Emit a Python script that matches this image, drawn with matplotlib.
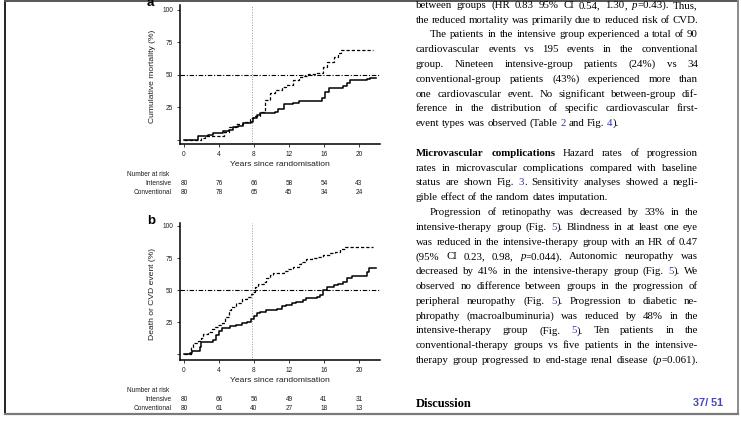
import re
import numpy as np
import matplotlib
matplotlib.use("Agg")
import matplotlib.pyplot as plt
from matplotlib.lines import Line2D
from matplotlib.transforms import blended_transform_factory

W, H = 741, 421

# Panel a: cumulative mortality (%), step times in years
a_int_t = [0, 1.6, 2.8, 3.3, 4.5, 5.1, 5.6, 6.2, 6.8, 7.7, 7.9, 8.4, 8.7, 10.4, 10.7, 11.4,
           12.5, 13.1, 15.8, 16.1, 16.6, 18.2, 18.6, 19.0, 20.9, 21.3, 22.0]
a_int_v = [0, 3, 4, 5, 6.7, 8, 9.7, 11, 12.8, 14, 17, 19, 20.5, 21.8, 24, 27.7,
           28.7, 30.2, 32.5, 37, 39.7, 41.5, 43.6, 46, 47, 48, 48]
a_con_t = [0, 2.0, 2.4, 4.6, 5.1, 6.0, 6.8, 7.5, 7.9, 8.7, 9.3, 9.8, 10.4, 11.2, 11.7,
           12.5, 13.1, 13.6, 14.2, 15.2, 15.9, 16.3, 17.1, 17.6, 18.0, 21.6]
a_con_v = [0, 1.5, 3, 6.4, 10, 12.3, 14, 16.7, 18.5, 21.8, 30.8, 35.9, 38.5, 40.5, 42.3,
           46, 48.2, 49.2, 50.8, 51.8, 56.4, 60.3, 63.6, 66.7, 69.2, 69.2]

# Panel b: death or CVD event (%)
b_int_t = [0, 0.7, 0.9, 1.8, 2.0, 3.35, 3.7, 4.0, 4.3, 5.3, 6.0, 6.6, 7.2, 7.7, 8.0, 8.3,
           8.7, 9.4, 10.6, 11.2, 11.7, 12.3, 12.8, 13.6, 14.0, 15.2, 15.5, 15.9, 16.3,
           17.1, 17.6, 18.2, 18.6, 19.2, 20.9, 21.2, 22.0]
b_int_v = [0, 1.3, 2.3, 6, 9.9, 11.2, 15, 18.4, 20.3, 22, 22.9, 24, 25.5, 27.3, 29.9, 32,
           33.2, 34.5, 35.6, 37.7, 38.4, 39.7, 41, 42.3, 43.6, 44.9, 46.2, 50.1, 52.7,
           53.8, 54.8, 56.6, 59.2, 61, 64.4, 67.5, 67]
b_con_t = [0, 0.8, 1.0, 1.6, 2.0, 2.2, 2.8, 3.2, 3.5, 3.9, 4.3, 4.7, 5.1, 5.4, 6.0, 6.6,
           7.2, 7.7, 7.9, 8.1, 8.5, 9.1, 9.4, 9.8, 10.2, 11.4, 11.9, 12.5, 13.1, 13.4,
           14.0, 14.6, 15.2, 15.9, 16.7, 17.3, 17.8, 18.4, 18.8, 21.6]
b_con_v = [0, 6, 9.1, 10.4, 12.5, 15.8, 17.7, 19.5, 21, 22.9, 24.7, 29.4, 34.5, 37.1,
           40.3, 42.9, 44.9, 47, 48.8, 52.7, 54.8, 56.6, 59.2, 61.8, 63.6, 64.9, 66.2,
           68.3, 70.4, 72.2, 74, 74.8, 76.1, 77.4, 78.7, 80, 81.8, 83.4, 83.9, 83.9]

risk_years = [0, 4, 8, 12, 16, 20]
a_risk_int = [80, 76, 66, 58, 54, 43]
a_risk_con = [80, 78, 65, 45, 34, 24]
b_risk_int = [80, 66, 56, 49, 41, 31]
b_risk_con = [80, 61, 40, 27, 18, 13]

x_ticks = [0, 4, 8, 12, 16, 20]
y_ticks = [0, 25, 50, 75, 100]
y_tick_labels = ["", "25", "50", "75", "100"]

# Body text, one entry per printed line: (line index, indented, justified, text)
# **bold**, *italic*, [link]
body_lines = [
    (0, False, True, "between groups (HR 0.83 [95% CI 0.54, 1.30], *p*=0.43). Thus,"),
    (1, False, True, "the reduced mortality was primarily due to reduced risk of CVD."),
    (2, True, True, "The patients in the intensive group experienced a total of 90"),
    (3, False, True, "cardiovascular events vs 195 events in the conventional"),
    (4, False, True, "group. Nineteen intensive-group patients (24%) vs 34"),
    (5, False, True, "conventional-group patients (43%) experienced more than"),
    (6, False, True, "one cardiovascular event. No significant between-group dif-"),
    (7, False, True, "ference in the distribution of specific cardiovascular first-"),
    (8, False, False, "event types was observed (Table [2] and Fig. [4])."),
    (10, False, True, "**Microvascular** **complications** Hazard rates of progression"),
    (11, False, True, "rates in microvascular complications compared with baseline"),
    (12, False, True, "status are shown Fig. [3]. Sensitivity analyses showed a negli-"),
    (13, False, False, "gible effect of the random dates imputation."),
    (14, True, True, "Progression of retinopathy was decreased by 33% in the"),
    (15, False, True, "intensive-therapy group (Fig. [5]). Blindness in at least one eye"),
    (16, False, True, "was reduced in the intensive-therapy group with an HR of 0.47"),
    (17, False, True, "(95% CI 0.23, 0.98, *p*=0.044). Autonomic neuropathy was"),
    (18, False, True, "decreased by 41% in the intensive-therapy group (Fig. [5]). We"),
    (19, False, True, "observed no difference between groups in the progression of"),
    (20, False, True, "peripheral neuropathy (Fig. [5]). Progression to diabetic ne-"),
    (21, False, True, "phropathy (macroalbuminuria) was reduced by 48% in the"),
    (22, False, True, "intensive-therapy group (Fig. [5]). Ten patients in the"),
    (23, False, True, "conventional-therapy groups vs five patients in the intensive-"),
    (24, False, True, "therapy group progressed to end-stage renal disease (*p*=0.061)."),
]

LINK = "#3535a8"
SANS = "Liberation Sans"
SERIF = "Liberation Serif"
INK = "#1e1e1e"


def fx(x):
    return x / W


def fy(y):
    return 1 - y / H


def add_axes_px(fig, left, top, right, bottom):
    return fig.add_axes([fx(left), fy(bottom), (right - left) / W, (bottom - top) / H])


def km_panel(fig, box, ylim, int_t, int_v, con_t, con_v, ylabel, letter, rows):
    left, top, right, bottom = box
    ax = add_axes_px(fig, left, top, right, bottom)
    ax.set_xlim(-0.457, 22.4)
    ax.set_ylim(*ylim)
    for s in ("top", "right"):
        ax.spines[s].set_visible(False)
    for s in ("left", "bottom"):
        ax.spines[s].set_linewidth(1.1)
    ax.set_xticks(x_ticks)
    ax.set_yticks(y_ticks)
    ax.set_yticklabels(y_tick_labels)
    ax.tick_params(length=2.2, width=0.6, labelsize=4.7, pad=2.6, colors=INK)
    for lab in ax.get_xticklabels() + ax.get_yticklabels():
        lab.set_family(SANS)

    ax.axhline(50, color="black", lw=0.8, dashes=(4, 1.6, 1, 1.6))
    ax.axvline(7.8, color="#9a9a9a", lw=0.7, ls=":")
    ax.step(int_t, int_v, where="post", color="black", lw=1.1)
    ax.step(con_t, con_v, where="post", color="black", lw=0.9, dashes=(2.6, 1.6))

    # axis titles, panel letter and number-at-risk table, in page pixels
    fig.text(fx(280), fy(bottom + 21), "Years since randomisation",
             ha="center", va="center", fontsize=6.1, family=SANS, color=INK)
    fig.text(fx(152), fy((top + bottom) / 2 + 2), ylabel, rotation=90,
             ha="center", va="center", fontsize=6.1, family=SANS, color=INK)
    fig.text(fx(147), fy(top + 0.5), letter, ha="left", va="baseline",
             fontsize=9.5, family=SANS, weight="bold", color="black")

    tr = blended_transform_factory(ax.transData, fig.transFigure)
    ry = bottom + 30
    fig.text(fx(127), fy(ry), "Number at risk", ha="left", va="center",
             fontsize=4.7, family=SANS, color=INK)
    for k, (name, vals) in enumerate(rows):
        yy = fy(ry + 9.5 * (k + 1))
        fig.text(fx(172), yy, name, ha="right", va="center",
                 fontsize=4.7, family=SANS, color=INK)
        for t, n in zip(risk_years, vals):
            ax.text(t, yy, str(n), transform=tr, ha="center", va="center",
                    fontsize=4.7, family=SANS, color=INK, clip_on=False)
    return ax


def parse_word(word):
    segs = []
    for m in re.finditer(r"\*\*(.+?)\*\*|\*(.+?)\*|\[(.+?)\]|([^*\[\]]+)", word):
        if m.group(1):
            segs.append((m.group(1), "bold"))
        elif m.group(2):
            segs.append((m.group(2), "italic"))
        elif m.group(3):
            segs.append((m.group(3), "link"))
        else:
            segs.append((m.group(4), "plain"))
    return segs


def seg_text(fig, s, style, size):
    kw = dict(family=SERIF, fontsize=size, color="black", va="baseline", ha="left")
    if style == "bold":
        kw["weight"] = "bold"
    elif style == "italic":
        kw["style"] = "italic"
    elif style == "link":
        kw["color"] = LINK
    return fig.text(0, 0, s, **kw)


def draw_body(fig, x0, x1, y0, step, indent, size):
    """Justified column: words placed one by one, gaps stretched to the margin."""
    renderer = fig.canvas.get_renderer()

    def width(a):
        return a.get_window_extent(renderer).width

    min_gap = 0.12 * size * 100 / 72
    nat_gap = 0.25 * size * 100 / 72
    for idx, ind, just, text in body_lines:
        words = [[seg_text(fig, s, st, size) for s, st in parse_word(w)]
                 for w in text.split(" ")]
        left = x0 + (indent if ind else 0)
        avail = x1 - left
        tot = sum(width(a) for w in words for a in w)
        # tight lines get slightly smaller type so they still fit
        room = avail - min_gap * (len(words) - 1)
        if just and tot > room:
            for w in words:
                for a in w:
                    a.set_fontsize(size * room / tot)
        ww = [[width(a) for a in w] for w in words]
        tot = sum(sum(w) for w in ww)
        gap = (avail - tot) / (len(words) - 1) if just else nat_gap
        x = left
        base = y0 + step * idx
        for w, wid in zip(words, ww):
            for a, aw in zip(w, wid):
                a.set_position((fx(x), fy(base)))
                x += aw
            x += gap


fig = plt.figure(figsize=(W / 100, H / 100), dpi=100)
fig.patch.set_facecolor("white")

km_panel(fig, (180, 5, 380, 144), (-3.08, 103.8), a_int_t, a_int_v, a_con_t, a_con_v,
         "Cumulative mortality (%)", "a",
         [("Intensive", a_risk_int), ("Conventional", a_risk_con)])
km_panel(fig, (180, 223, 380, 360), (-4.44, 102.3), b_int_t, b_int_v, b_con_t, b_con_v,
         "Death or CVD event (%)", "b",
         [("Intensive", b_risk_int), ("Conventional", b_risk_con)])

draw_body(fig, 416, 698, 7.8, 14.8, 14, 7.8)

fig.text(fx(416), fy(407), "Discussion", family=SERIF, weight="bold", fontsize=9,
         ha="left", va="baseline", color="black")
fig.text(fx(708), fy(403), "37/ 51", family=SANS, weight="bold", fontsize=7.8,
         ha="center", va="center", color="#4646b4")

# page frame
fig.add_artist(Line2D([fx(5), fx(5)], [fy(0), fy(414)], color="#111111", lw=1.3))
fig.add_artist(Line2D([fx(5), fx(738)], [fy(0.6), fy(0.6)], color="#555555", lw=1.4))
fig.add_artist(Line2D([fx(738), fx(738)], [fy(0), fy(414)], color="#8a8a8a", lw=1.4))
fig.add_artist(Line2D([fx(5), fx(738)], [fy(414), fy(414)], color="#7a7a7a", lw=1.6))

fig.savefig("out.png", dpi=100, facecolor="white")
